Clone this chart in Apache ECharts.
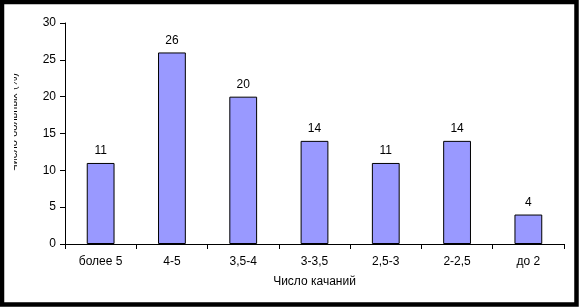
<!DOCTYPE html>
<html><head><meta charset="utf-8">
<script src="https://cdn.jsdelivr.net/npm/echarts@6/dist/echarts.min.js"></script>
<style>html,body{margin:0;padding:0;background:#fff}#c{width:579px;height:307px}</style>
</head><body><div id="c"></div>
<script>
const categories = ['более 5', '4-5', '3,5-4', '3-3,5', '2,5-3', '2-2,5', 'до 2'];
const values = [11, 26, 20, 14, 11, 14, 4];
const yTicks = [0, 5, 10, 15, 20, 25, 30];
const xTitle = 'Число качаний';
const yTitle = 'Число больных (%)';

const chart = echarts.init(document.getElementById('c'), null, {renderer: 'canvas'});
const font = 'Liberation Sans, Arial, sans-serif';
chart.setOption({
  animation: false,
  backgroundColor: '#fff',
  grid: {left: 65, right: 15, top: 23, bottom: 63},
  xAxis: {
    type: 'category', data: categories,
    name: xTitle, nameLocation: 'middle', nameGap: 32,
    nameTextStyle: {color: '#000', fontSize: 12, fontFamily: font},
    axisLine: {lineStyle: {color: '#000', width: 1}},
    axisTick: {show: true, alignWithLabel: false, length: 5, lineStyle: {color: '#000'}},
    axisLabel: {color: '#000', fontSize: 12, fontFamily: font, margin: 12},
    splitLine: {show: false}
  },
  yAxis: {
    type: 'value', min: yTicks[0], max: yTicks[yTicks.length - 1], interval: 5,
    axisLine: {show: true, lineStyle: {color: '#000', width: 1}},
    axisTick: {show: true, length: 5, lineStyle: {color: '#000'}},
    axisLabel: {color: '#000', fontSize: 12, fontFamily: font, margin: 9},
    splitLine: {show: false}
  },
  series: [{
    type: 'bar', data: values, barWidth: '39%',
    itemStyle: {color: '#9999FF', borderColor: '#000', borderWidth: 1},
    label: {show: true, position: 'top', distance: 6, color: '#000', fontSize: 12, fontFamily: font}
  }],
  graphic: [
    {type: 'text', left: 8, top: 73, z: 50, rotation: Math.PI / 2,
     style: {text: yTitle, fill: '#000', font: '11px ' + font}},
    {type: 'rect', z: 60, shape: {x: 4, y: 60, width: 10, height: 120}, style: {fill: '#fff'}},
    {type: 'rect', z: 100, shape: {x: 2, y: 2, width: 574.5, height: 302.5}, style: {fill: 'none', stroke: '#000', lineWidth: 4.5}}
  ]
});
</script></body></html>
